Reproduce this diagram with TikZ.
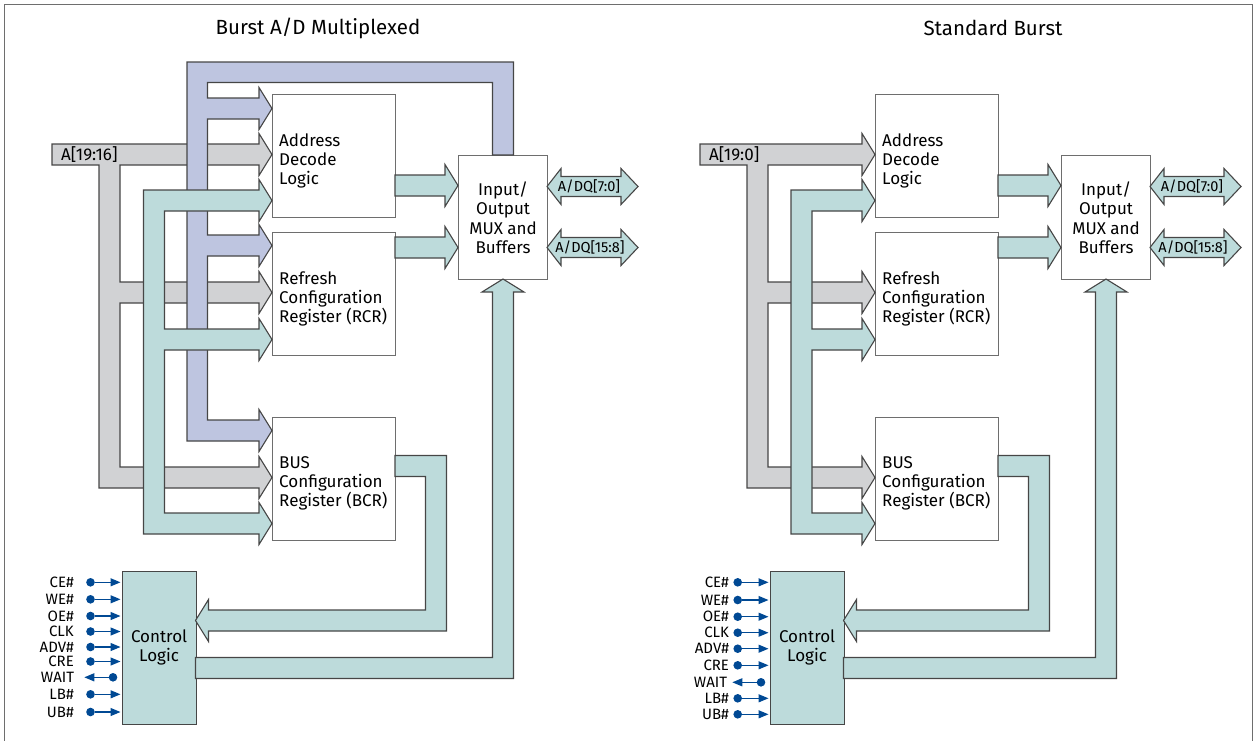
\documentclass[tikz,border=0pt]{standalone}
\usepackage{fontspec}
\setmainfont{Fira Sans}
\usetikzlibrary{arrows.meta,positioning}

\definecolor{busgray}{RGB}{209,210,212}
\definecolor{busblue}{RGB}{190,197,224}
\definecolor{busteal}{RGB}{189,219,219}
\definecolor{busline}{RGB}{70,70,70}
\definecolor{boxline}{RGB}{110,110,110}
\definecolor{sigblue}{RGB}{0,73,148}

% fat arrow heads (width 21, head 42 x 13)
\newcommand{\headR}{-- ++(0,-10.5) -- ++(13,21) -- ++(-13,21) -- ++(0,-10.5)}
\newcommand{\headL}{-- ++(0,10.5) -- ++(-13,-21) -- ++(13,-21) -- ++(0,10.5)}
\newcommand{\headU}{-- ++(-10.5,0) -- ++(21,-13) -- ++(21,13) -- ++(-10.5,0)}

\begin{document}
\begin{tikzpicture}[x=1pt, y=-1pt,
        regbox/.style={draw=boxline, line width=1.2pt, fill=white, anchor=north west,
          minimum height=123pt, minimum width=123pt, inner sep=0pt},
        regtext/.style={anchor=west, inner sep=0pt, xshift=7pt, yshift=-4.5pt, align=left,
          font=\fontsize{17}{19}\selectfont},
        iobox/.style={draw=boxline, line width=1.2pt, fill=white, anchor=north west,
          minimum width=89pt, minimum height=124pt, align=center,
          font=\fontsize{17}{19.5}\selectfont},
        ctlbox/.style={draw=busline, line width=1.2pt, fill=busteal, anchor=north west,
          minimum width=74pt, minimum height=153.5pt, align=center,
          font=\fontsize{17}{19}\selectfont},
        busG/.style={draw=busline, line width=1.1pt, fill=busgray},
        busB/.style={draw=busline, line width=1.1pt, fill=busblue},
        busT/.style={draw=busline, line width=1.1pt, fill=busteal},
        buslabel/.style={anchor=west, inner sep=0pt, font=\fontsize{17}{19}\selectfont},
        dqlabel/.style={inner sep=0pt, font=\fontsize{14.5}{16}\selectfont},
        titlelabel/.style={font=\fontsize{20.5}{24}\selectfont},
        sdot/.style={circle, fill=sigblue, inner sep=0pt, minimum size=8.6pt},
        siglab/.style={inner sep=0pt, text height=10.5pt, text depth=0pt,
          font=\fontsize{15}{17}\selectfont},
        sig/.style={draw=sigblue, line width=1.2pt, -{Triangle[length=10pt,width=8pt]}}
    ]
    \useasboundingbox (0,0) rectangle (1257,740);

    % cornice
    \draw[boxline, line width=1pt] (4.5,745) -- (4.5,4.5) -- (1252.5,4.5) -- (1252.5,745);

    % ---------------- Burst A/D Multiplexed ----------------
    \node[titlelabel] (titleL) at (318,28) {Burst A/D Multiplexed};

    % blocchi
    \node[regbox, label={[regtext]west:{Address\\Decode\\Logic}}] (adlL) at (272,94) {};
    \node[regbox, label={[regtext]west:{Refresh\\Configuration\\Register (RCR)}}] (rcrL) at (272,232) {};
    \node[regbox, label={[regtext]west:{BUS\\Configuration\\Register (BCR)}}] (bcrL) at (272,416.5) {};
    \node[iobox] (iomL) at (458,155) {Input/\\Output\\MUX and\\Buffers};
    \node[ctlbox] (ctlL) at (121.5,570.5) {Control\\Logic};

    % bus indirizzi A[19:16]
    \draw[busG] (52,144) -- (259,144) \headR -- (120,165) -- (120,282) -- (259,282) \headR
        -- (120,303) -- (120,467) -- (259,467) \headR -- (99,488) -- (99,165) -- (52,165) -- cycle;
    \node[buslabel] (addrL) at (61,154.5) {A[19:16]};

    % bus A/DQ di ritorno
    \draw[busB] (187,441) -- (187,62) -- (513.5,62) -- (513.5,155) -- (492.5,155) -- (492.5,82.5)
        -- (207.5,82.5) -- (207.5,98) -- (259,98) \headR -- (207.5,119) -- (207.5,235)
        -- (259,235) \headR -- (207.5,256) -- (207.5,420) -- (259,420) \headR -- cycle;

    % bus controllo
    \draw[busT] (143.5,190) -- (259,190) \headR -- (164.5,211) -- (164.5,329) -- (259,329) \headR
        -- (164.5,350) -- (164.5,513) -- (259,513) \headR -- (143.5,534) -- cycle;

    % verso MUX
    \draw[busT] (395,175) -- (445,175) \headR -- (395,196) -- cycle;
    \draw[busT] (395,237) -- (445,237) \headR -- (395,258) -- cycle;

    % A/DQ
    \draw[busT] (547,186.5) -- ++(14,-18) -- ++(0,8) -- (621,176.5) -- ++(0,-8) -- ++(17,18)
        -- ++(-17,18) -- ++(0,-8) -- (561,196.5) -- ++(0,8) -- cycle;
    \node[dqlabel] (dqaL) at (589,186.5) {A/DQ[7:0]};
    \draw[busT] (547,247.5) -- ++(14,-18) -- ++(0,8) -- (621,237.5) -- ++(0,-8) -- ++(17,18)
        -- ++(-17,18) -- ++(0,-8) -- (561,257.5) -- ++(0,8) -- cycle;
    \node[dqlabel] (dqbL) at (590,247.5) {A/DQ[15:8]};

    % BCR -> Control Logic, Control Logic -> MUX
    \draw[busT] (395,455.5) -- (446.5,455.5) -- (446.5,631) -- (208.5,631) \headL
        -- (425.5,610) -- (425.5,476.5) -- (395,476.5) -- cycle;
    \draw[busT] (195.5,657.5) -- (492.5,657.5) -- (492.5,292) \headU -- (513.5,678.5)
        -- (195.5,678.5) -- cycle;

    % segnali
    \foreach \name/\yy [count=\i] in {CE\#/582.3, WE\#/599.3, OE\#/616, CLK/631.5,
        ADV\#/647, CRE/661.5, LB\#/694.3, UB\#/712} {
      \node[sdot] (sL\i) at (90.5,\yy) {};
      \node[siglab, left=12pt of sL\i] {\name};
      \draw[sig, shorten >=1pt] (sL\i) -- (ctlL.west |- sL\i);
    }
    \node[sdot] (waitL) at (113,677.3) {};
    \coordinate (waittipL) at (84.3,677.3);
    \draw[sig] (waitL) -- (waittipL);
    \node[siglab, left=10pt of waittipL] {WAIT};

    % ---------------- Standard Burst ----------------
    \node[titlelabel] (titleR) at (993,28) {Standard Burst};

    % blocchi
    \node[regbox, label={[regtext]west:{Address\\Decode\\Logic}}] (adlR) at (875,94) {};
    \node[regbox, label={[regtext]west:{Refresh\\Configuration\\Register (RCR)}}] (rcrR) at (875,232) {};
    \node[regbox, label={[regtext]west:{BUS\\Configuration\\Register (BCR)}}] (bcrR) at (875,416.5) {};
    \node[iobox] (iomR) at (1061,155) {Input/\\Output\\MUX and\\Buffers};
    \node[ctlbox] (ctlR) at (769.5,570.5) {Control\\Logic};

    % bus indirizzi A[19:0]
    \draw[busG] (700,144) -- (862,144) \headR -- (768,165) -- (768,282) -- (862,282) \headR
        -- (768,303) -- (768,467) -- (862,467) \headR -- (747,488) -- (747,165) -- (700,165) -- cycle;
    \node[buslabel] (addrR) at (709,154.5) {A[19:0]};

    % bus controllo
    \draw[busT] (791,190) -- (862,190) \headR -- (812,211) -- (812,329) -- (862,329) \headR
        -- (812,350) -- (812,513) -- (862,513) \headR -- (791,534) -- cycle;

    % verso MUX
    \draw[busT] (998,175) -- (1048,175) \headR -- (998,196) -- cycle;
    \draw[busT] (998,237) -- (1048,237) \headR -- (998,258) -- cycle;

    % A/DQ
    \draw[busT] (1150,186.5) -- ++(14,-18) -- ++(0,8) -- (1224,176.5) -- ++(0,-8) -- ++(17,18)
        -- ++(-17,18) -- ++(0,-8) -- (1164,196.5) -- ++(0,8) -- cycle;
    \node[dqlabel] (dqaR) at (1192,186.5) {A/DQ[7:0]};
    \draw[busT] (1150,247.5) -- ++(14,-18) -- ++(0,8) -- (1224,237.5) -- ++(0,-8) -- ++(17,18)
        -- ++(-17,18) -- ++(0,-8) -- (1164,257.5) -- ++(0,8) -- cycle;
    \node[dqlabel] (dqbR) at (1193,247.5) {A/DQ[15:8]};

    % BCR -> Control Logic, Control Logic -> MUX
    \draw[busT] (998,455.5) -- (1049.5,455.5) -- (1049.5,631) -- (856.5,631) \headL
        -- (1028.5,610) -- (1028.5,476.5) -- (998,476.5) -- cycle;
    \draw[busT] (843.5,657.5) -- (1095.5,657.5) -- (1095.5,292) \headU -- (1116.5,678.5)
        -- (843.5,678.5) -- cycle;

    % segnali
    \foreach \name/\yy [count=\i] in {CE\#/582.3, WE\#/600, OE\#/616.7, CLK/632.7,
        ADV\#/648.7, CRE/665.3, LB\#/698.3, UB\#/714.3} {
      \node[sdot] (sR\i) at (737.7,\yy) {};
      \node[siglab, left=4pt of sR\i] {\name};
      \draw[sig, shorten >=1pt] (sR\i) -- (ctlR.west |- sR\i);
    }
    \node[sdot] (waitR) at (761,682.3) {};
    \coordinate (waittipR) at (732.3,682.3);
    \draw[sig] (waitR) -- (waittipR);
    \node[siglab, left=5pt of waittipR] {WAIT};
\end{tikzpicture}
\end{document}
